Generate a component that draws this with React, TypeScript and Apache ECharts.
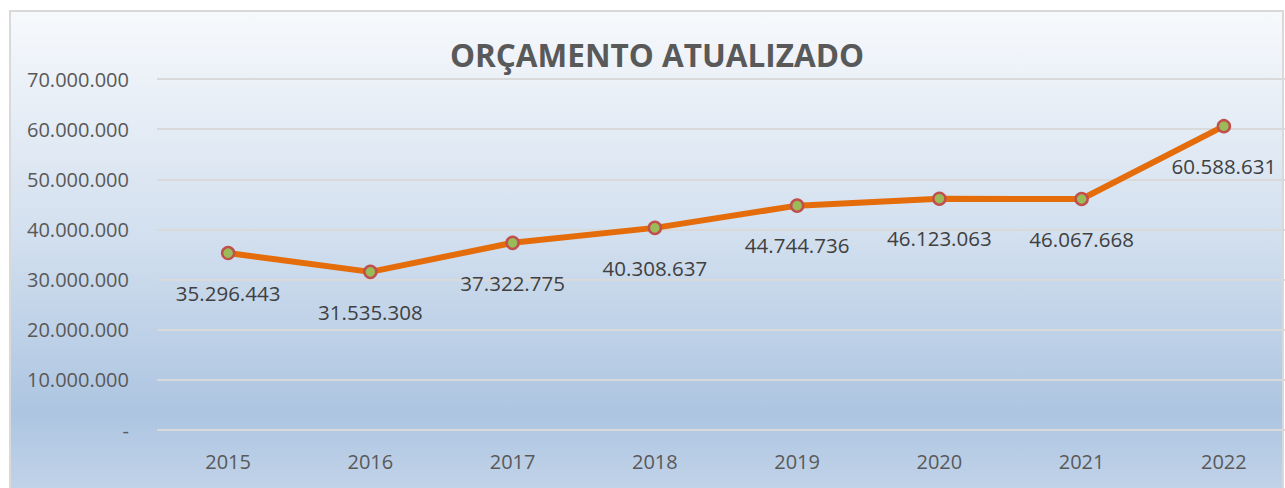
import React, { useEffect, useRef } from "react";
import * as echarts from "echarts";

const categories = ["2015", "2016", "2017", "2018", "2019", "2020", "2021", "2022"];
const values = [35296443, 31535308, 37322775, 40308637, 44744736, 46123063, 46067668, 60588631];
const title = "ORÇAMENTO ATUALIZADO";

const fmt = (v: number) => {
  if (v === 0) return "-";
  return Math.round(v).toString().replace(/\B(?=(\d{3})+(?!\d))/g, ".");
};

export default function App() {
  const ref = useRef<HTMLDivElement>(null);
  useEffect(() => {
    const chart = echarts.init(ref.current!, undefined, { renderer: "svg" });
    chart.setOption({
      animation: false,
      backgroundColor: "#ffffff",
      textStyle: { fontFamily: "Open Sans" },
      graphic: [
        {
          type: "rect",
          z: -100,
          silent: true,
          shape: { x: 10, y: 11, width: 1273, height: 490 },
          style: {
            fill: new echarts.graphic.LinearGradient(0, 0, 0, 1, [
              { offset: 0, color: "#f7f9fc" },
              { offset: 0.45, color: "#d3e0ef" },
              { offset: 0.82, color: "#adc5e1" },
              { offset: 1, color: "#c4d5ea" },
            ]),
            stroke: "#d9d9d9",
            lineWidth: 2,
          },
        },
      ],
      title: {
        text: title,
        left: 652,
        textAlign: "center",
        top: 33,
        textStyle: { color: "#595959", fontSize: 31.5, fontWeight: "bold", fontFamily: "Open Sans" },
      },
      grid: { left: 157, right: 5, top: 79, bottom: 58, containLabel: false },
      xAxis: {
        type: "category",
        data: categories,
        boundaryGap: true,
        axisLine: { show: false },
        axisTick: { show: false },
        axisLabel: { color: "#595959", fontSize: 20, margin: 21, fontFamily: "Open Sans" },
      },
      yAxis: {
        type: "value",
        min: 0,
        max: 70000000,
        interval: 10000000,
        axisLine: { show: false },
        axisTick: { show: false },
        axisLabel: {
          color: "#595959",
          fontSize: 20,
          margin: 28,
          fontFamily: "Open Sans",
          formatter: (v: number) => fmt(v),
        },
        splitLine: { lineStyle: { color: "#d9d9d9", width: 2 } },
      },
      series: [
        {
          type: "line",
          data: values,
          symbol: "circle",
          symbolSize: 12,
          lineStyle: { color: "#e46c0a", width: 6 },
          itemStyle: { color: "#9bbb59", borderColor: "#c0504d", borderWidth: 2.5 },
          label: {
            show: true,
            position: "bottom",
            distance: 22,
            color: "#404040",
            fontSize: 20.5,
            fontFamily: "Open Sans",
            formatter: (p: any) => fmt(p.value),
          },
          z: 5,
        },
      ],
    });
    return () => chart.dispose();
  }, []);
  return (
    <div style={{ position: "absolute", left: 0, top: 0, width: 1285, height: 488, overflow: "hidden" }}>
      <div ref={ref} style={{ width: 1300, height: 488 }} />
    </div>
  );
}
